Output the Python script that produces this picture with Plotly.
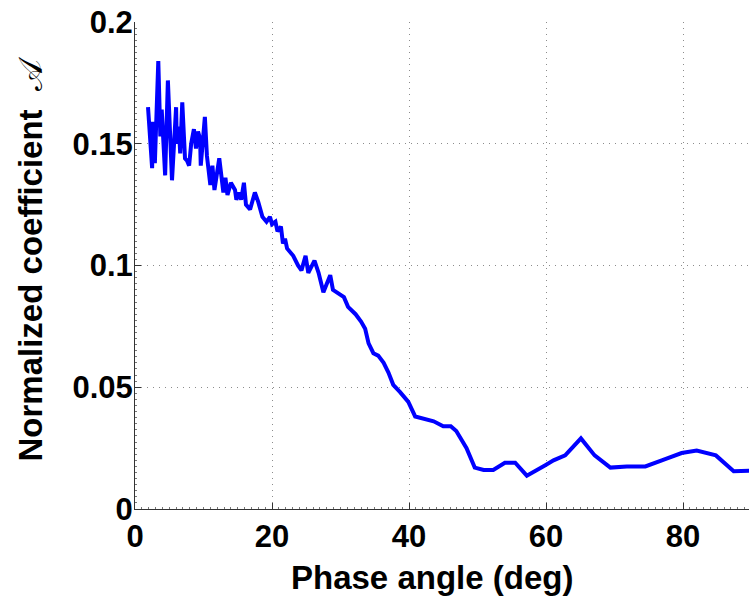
import plotly.graph_objects as go

phase_deg = [1.9, 2.5, 2.6, 2.9, 3.4, 3.7, 3.9, 4.4, 4.8, 5.1, 5.4, 6.0, 6.1, 6.4, 6.6, 6.9,
             7.3, 7.6, 7.9, 8.2, 8.6, 8.9, 9.2, 9.5, 9.6, 10.2, 10.5, 11.0, 11.3, 11.6,
             12.3, 12.9, 13.2, 13.5, 14.0, 14.6, 14.8, 15.2, 15.5, 15.9, 16.2, 16.8, 17.5,
             18.0, 18.6, 19.2, 19.7, 20.0, 20.5, 20.8, 21.3, 21.6, 21.9, 22.2, 23.1, 23.8,
             24.3, 24.9, 25.3, 26.2, 26.8, 27.5, 28.5, 28.9, 30.1, 30.5, 31.1, 32.2, 33.0,
             33.6, 34.1, 34.8, 35.5, 36.3, 37.0, 37.7, 38.7, 39.9, 40.9, 43.6, 45.0, 46.1,
             46.9, 48.4, 49.6, 50.9, 52.3, 54.0, 55.5, 57.2, 59.9, 61.1, 62.8, 65.1, 67.1,
             69.4, 71.8, 74.5, 77.4, 79.8, 82.0, 84.8, 87.4, 89.3, 90.0]
coef_A = [0.165, 0.140, 0.159, 0.142, 0.184, 0.153, 0.164, 0.137, 0.176, 0.152, 0.135, 0.165,
          0.150, 0.157, 0.146, 0.167, 0.144, 0.143, 0.141, 0.150, 0.156, 0.148, 0.155, 0.152,
          0.141, 0.161, 0.145, 0.133, 0.141, 0.131, 0.144, 0.130, 0.136, 0.129, 0.134, 0.131,
          0.127, 0.130, 0.127, 0.134, 0.125, 0.123, 0.130, 0.126, 0.120, 0.118, 0.120, 0.117,
          0.118, 0.114, 0.116, 0.109, 0.111, 0.107, 0.104, 0.100, 0.098, 0.104, 0.097, 0.102,
          0.097, 0.089, 0.096, 0.090, 0.088, 0.087, 0.083, 0.080, 0.077, 0.074, 0.068, 0.064,
          0.063, 0.060, 0.056, 0.051, 0.048, 0.044, 0.038, 0.036, 0.034, 0.034, 0.032, 0.025,
          0.017, 0.016, 0.016, 0.019, 0.019, 0.0137, 0.018, 0.020, 0.022, 0.029, 0.022, 0.017,
          0.0175, 0.0175, 0.0205, 0.023, 0.024, 0.022, 0.0155, 0.0157, 0.0158]

x_ticks = [0, 20, 40, 60, 80]
x_tick_labels = ["0", "20", "40", "60", "80"]
y_ticks = [0, 0.05, 0.1, 0.15, 0.2]
y_tick_labels = ["0", "0.05", "0.1", "0.15", "0.2"]

W, H = 749, 597
L, R, T, B = 135, 0, 22, 88
FONT = "Liberation Sans, Arial, Helvetica, sans-serif"

fig = go.Figure()
fig.add_trace(go.Scatter(x=phase_deg, y=coef_A, mode="lines",
                         line=dict(color="#0000ff", width=4), showlegend=False))

axis_common = dict(
    showline=True, linecolor="#333333", linewidth=1,
    ticks="inside", ticklen=6, tickcolor="#333333", tickwidth=1,
    showgrid=True, gridcolor="#8c8c8c", griddash="1px,5px", gridwidth=1,
    zeroline=False, mirror=False,
    tickfont=dict(family=FONT, size=31, color="black", weight="bold"),
)

fig.update_xaxes(range=[0, (W - L) / 6.85], tickvals=x_ticks, ticktext=x_tick_labels,
                 ticklabelstandoff=0,
                 minor=dict(dtick=1, ticks="inside", ticklen=2, tickcolor="#777777", showgrid=False),
                 **axis_common)
fig.update_yaxes(range=[0, 0.2], tickvals=y_ticks, ticktext=y_tick_labels,
                 ticklabelstandoff=-5,
                 minor=dict(dtick=0.0025, ticks="inside", ticklen=2, tickcolor="#777777", showgrid=False),
                 **axis_common)

fig.add_annotation(text="<b>Phase angle (deg)</b>", xref="paper", yref="paper",
                   x=(432 - L) / (W - L - R), y=-(577 - (H - B)) / (H - T - B),
                   xanchor="center", yanchor="middle", showarrow=False,
                   font=dict(family=FONT, size=33, color="black"))
fig.add_annotation(text="<b>Normalized coefficient</b>  <span style='font-family:DejaVu Serif'>𝒜</span>",
                   xref="paper", yref="paper",
                   x=-(L - 30) / (W - L - R), y=0.5 + (265 - 259) / (H - T - B),
                   xanchor="center", yanchor="middle", showarrow=False, textangle=-90,
                   font=dict(family=FONT, size=33, color="black"))

fig.update_layout(width=W, height=H, margin=dict(l=L, r=R, t=T, b=B),
                  paper_bgcolor="white", plot_bgcolor="white")

fig.write_html("out.html", config={"displayModeBar": False},
               post_script="document.body.style.margin='0';")
